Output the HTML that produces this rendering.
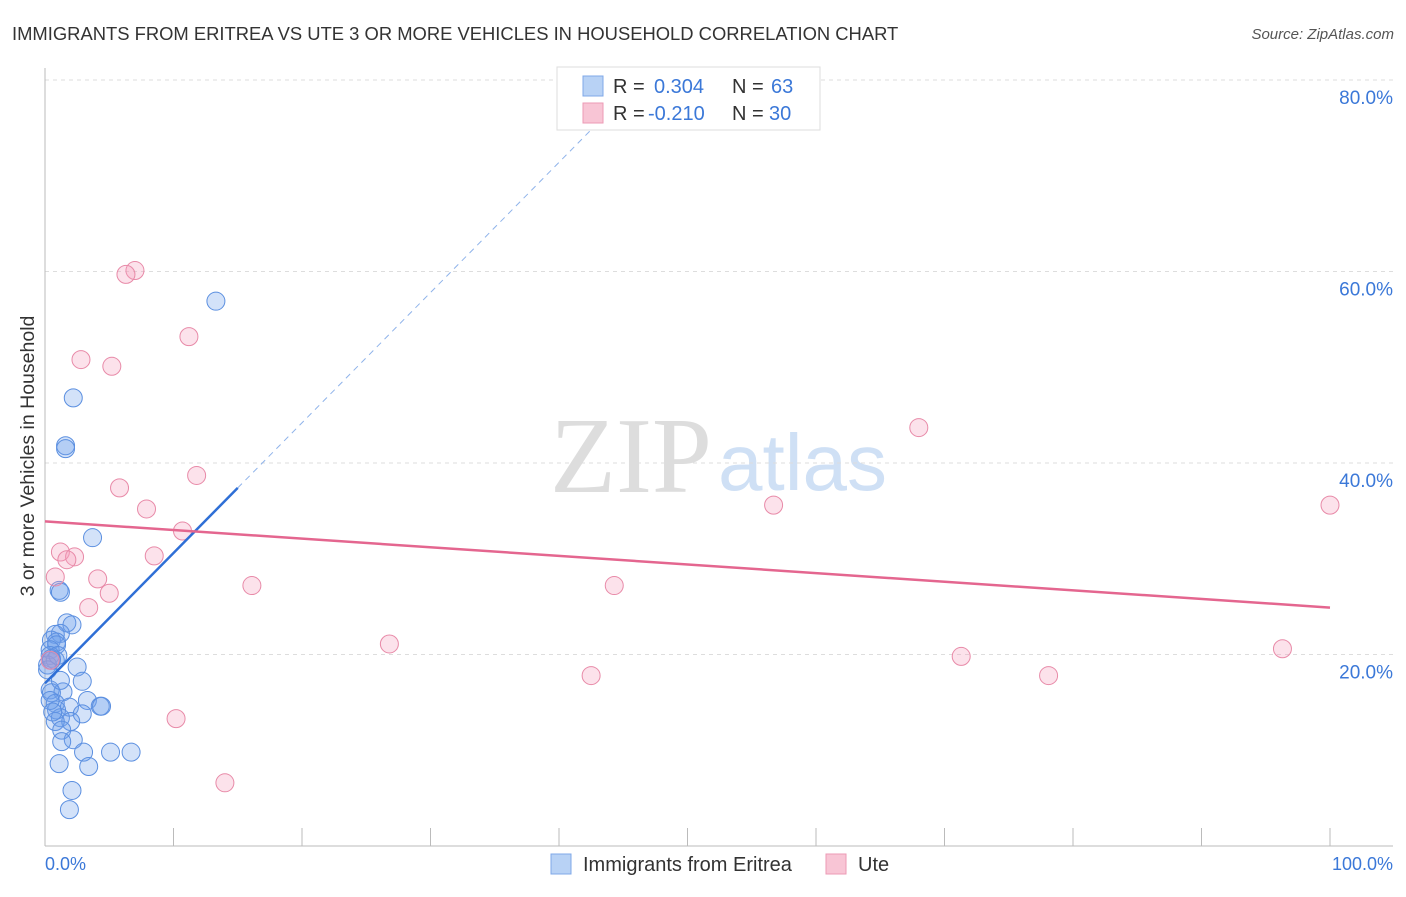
<!DOCTYPE html>
<html><head><meta charset="utf-8"><style>
body{margin:0;background:#fff;font-family:"Liberation Sans",sans-serif}
svg text{font-family:"Liberation Sans",sans-serif}
</style></head><body>
<svg width="1406" height="892">
<text x="12" y="40" font-size="18.4" fill="#333">IMMIGRANTS FROM ERITREA VS UTE 3 OR MORE VEHICLES IN HOUSEHOLD CORRELATION CHART</text>
<text x="1394" y="39" font-size="15" fill="#555" font-style="italic" text-anchor="end">Source: ZipAtlas.com</text>
<text x="712" y="492" font-size="108" fill="#ddd" style="font-family:'Liberation Serif',serif" text-anchor="end">ZIP</text>
<text x="718" y="490" font-size="80" fill="#cfe0f5">atlas</text>
<g id="grid"></g>
<line x1="45" y1="68" x2="45" y2="846" stroke="#bbb"/>
<line x1="45" y1="846" x2="1393" y2="846" stroke="#bbb"/>
<text x="34" y="456" font-size="19.5" fill="#333" text-anchor="middle" transform="rotate(-90 34 456)">3 or more Vehicles in Household</text>
<text x="45" y="870" font-size="18" fill="#3b78d8">0.0%</text>
<text x="1393" y="870" font-size="18" fill="#3b78d8" text-anchor="end">100.0%</text>
<g id="marks"></g>
<g>
<rect x="557" y="67" width="263" height="63" fill="#fff" stroke="#ddd"/>
<rect x="583" y="76" width="20" height="20" fill="#b8d2f5" stroke="#7fa8e8"/>
<rect x="583" y="103" width="20" height="20" fill="#f8c5d5" stroke="#ec9ab5"/>
<text y="93" font-size="20" fill="#333"><tspan x="613">R =</tspan><tspan x="654" fill="#3b78d8">0.304</tspan><tspan x="732">N =</tspan><tspan x="771" fill="#3b78d8">63</tspan></text>
<text y="120" font-size="20" fill="#333"><tspan x="613">R =</tspan><tspan x="648" fill="#3b78d8">-0.210</tspan><tspan x="732">N =</tspan><tspan x="769" fill="#3b78d8">30</tspan></text>
</g>
<g>
<rect x="551" y="854" width="20" height="20" fill="#b8d2f5" stroke="#7fa8e8"/>
<text x="583" y="871" font-size="20" fill="#333">Immigrants from Eritrea</text>
<rect x="826" y="854" width="20" height="20" fill="#f8c5d5" stroke="#ec9ab5"/>
<text x="858" y="871" font-size="20" fill="#333">Ute</text>
</g>
</svg>
<script>
const yTicks=[20,40,60,80];
const yTickLabels=["20.0%","40.0%","60.0%","80.0%"];
const blueX=[13.3,2.2,1.6,1.6,3.7,1.1,1.2,1.7,2.1,1.2,0.8,0.5,0.9,0.9,0.4,0.4,0.5,0.8,0.2,2.5,2.9,0.4,1.4,0.5,3.3,0.8,1.9,4.3,4.4,0.9,2.9,1.2,2.0,0.8,1.3,2.2,1.3,3.0,5.1,6.7,1.1,3.4,2.1,1.9,0.2,0.4,0.6,1.2,1.0,0.5];
const blueY=[56.9,46.8,41.8,41.5,32.2,26.7,26.5,23.3,23.1,22.2,22.1,21.5,21.3,21.0,20.5,19.9,19.6,19.4,18.9,18.7,17.2,16.3,16.1,16.0,15.2,14.9,14.5,14.6,14.6,14.2,13.8,13.4,13.0,13.0,12.1,11.1,10.9,9.8,9.8,9.8,8.6,8.3,5.8,3.8,18.4,15.2,14.0,17.3,19.9,19.4];
const pinkX=[7.0,6.3,11.2,2.8,5.2,68.0,11.8,5.8,7.9,56.7,100,10.7,1.2,8.5,2.3,1.7,0.8,4.1,16.1,44.3,5.0,3.4,26.8,71.3,96.3,42.5,78.1,10.2,14.0,0.4];
const pinkY=[60.1,59.7,53.2,50.8,50.1,43.7,38.7,37.4,35.2,35.6,35.6,32.9,30.7,30.3,30.2,29.9,28.1,27.9,27.2,27.2,26.4,24.9,21.1,19.8,20.6,17.8,17.8,13.3,6.6,19.4];
const blueTrend=[17.0,1.36];
const pinkTrend=[33.9,-0.09];
const NS="http://www.w3.org/2000/svg";
const sx=v=>45+v*12.85, sy=v=>846-v*9.575;
const grid=document.getElementById('grid'), marks=document.getElementById('marks');
function mk(tag,attrs,parent){const e=document.createElementNS(NS,tag);for(const k in attrs)e.setAttribute(k,attrs[k]);parent.appendChild(e);return e;}
yTicks.forEach((t,i)=>{
  const l=mk('line',{x1:45,x2:1393,y1:sy(t),y2:sy(t),stroke:'#ddd','stroke-dasharray':'4,4'},grid);
  
  
  const tx=mk('text',{x:1393,y:sy(t)+24,'font-size':19,fill:'#3b78d8','text-anchor':'end'},grid);
  tx.textContent=yTickLabels[i];
  
  
});
for(let k=1;k<=10;k++){
  const l=mk('line',{x1:sx(k*10),x2:sx(k*10),y1:828,y2:846,stroke:'#bbb'},grid);
  
  
}
blueX.forEach((x,i)=>{
  const c=mk('circle',{cx:sx(x),cy:sy(blueY[i]),r:9,fill:'rgba(110,160,235,0.3)',stroke:'#5b8fe0','stroke-width':1},marks);
  
  
});
pinkX.forEach((x,i)=>{
  const c=mk('circle',{cx:sx(x),cy:sy(pinkY[i]),r:9,fill:'rgba(245,160,190,0.3)',stroke:'#e88aa8','stroke-width':1},marks);
  
  
});
const bEnd=15, bTop=(75-blueTrend[0])/blueTrend[1];
let l1=mk('line',{x1:sx(0),y1:sy(blueTrend[0]),x2:sx(bEnd),y2:sy(blueTrend[0]+blueTrend[1]*bEnd),stroke:'#2f6fd6','stroke-width':2.5},marks);


let l2=mk('line',{x1:sx(bEnd),y1:sy(blueTrend[0]+blueTrend[1]*bEnd),x2:sx(bTop),y2:sy(blueTrend[0]+blueTrend[1]*bTop),stroke:'#8fb3ea','stroke-width':1,'stroke-dasharray':'6,5'},marks);


let l3=mk('line',{x1:sx(0),y1:sy(pinkTrend[0]),x2:sx(100),y2:sy(pinkTrend[0]+pinkTrend[1]*100),stroke:'#e4668f','stroke-width':2.5},marks);


</script>
</body></html>
